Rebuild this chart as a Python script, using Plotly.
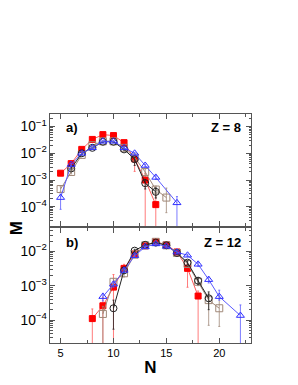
import plotly.graph_objects as go

# ---------------- Z = 8 (panel a) ----------------
n_red8 = [5, 6, 7, 8, 9, 10, 11, 12, 13, 14]
m_red8 = [1.8e-3, 4.1e-3, 1.4e-2, 3.3e-2, 5.0e-2, 4.6e-2, 2.5e-2, 6.2e-3, 1.0e-3, 1.2e-4]
eu_red8 = [2e-4, 5e-4, 1e-3, 2e-3, 3e-3, 3e-3, 2e-3, 1e-3, 8e-4, 1.5e-4]
el_red8 = [2e-4, 5e-4, 1e-3, 2e-3, 3e-3, 3e-3, 2e-3, 4.1e-3, 1.0e-3, 1.2e-4]

n_tan8 = [5, 6, 7, 8, 9, 10, 11, 12, 13, 14, 15]
m_tan8 = [4.6e-4, 2.0e-3, 8.7e-3, 2.0e-2, 2.8e-2, 2.8e-2, 1.6e-2, 7.0e-3, 2.0e-3, 4.4e-4, 2.2e-4]
eu_tan8 = [1e-4, 3e-4, 8e-4, 1e-3, 1e-3, 1e-3, 1e-3, 1e-3, 6e-4, 1.5e-4, 2.8e-4]
el_tan8 = [1e-4, 3e-4, 8e-4, 1e-3, 1e-3, 1e-3, 1e-3, 1e-3, 6e-4, 2.2e-4, 1.6e-4]

n_blk8 = [6, 7, 8, 9, 10, 11, 12, 13, 14]
m_blk8 = [2.7e-3, 1.0e-2, 1.6e-2, 2.7e-2, 2.7e-2, 1.4e-2, 6.0e-3, 7.6e-4, 3.6e-4]
eu_blk8 = [3e-4, 8e-4, 1e-3, 1e-3, 1e-3, 1e-3, 1e-3, 3e-4, 1.5e-4]
el_blk8 = [3e-4, 8e-4, 1e-3, 1e-3, 1e-3, 1e-3, 2.5e-3, 3e-4, 1.5e-4]

n_blu8 = [5, 6, 7, 8, 9, 10, 11, 12, 13, 14, 16]
m_blu8 = [2.2e-4, 3.8e-3, 1.0e-2, 1.6e-2, 2.8e-2, 2.8e-2, 1.6e-2, 1.0e-2, 3.5e-3, 1.25e-3, 1.4e-4]
eu_blu8 = [8e-5, 4e-4, 8e-4, 1e-3, 1e-3, 1e-3, 1e-3, 8e-4, 4e-4, 2e-4, 1.0e-4]
el_blu8 = [1.4e-4, 4e-4, 8e-4, 1e-3, 1e-3, 1e-3, 1e-3, 8e-4, 4e-4, 2e-4, 1.4e-4]

# ---------------- Z = 12 (panel b) ----------------
n_red12 = [8, 9, 10, 11, 12, 13, 14, 15, 16, 17, 18]
m_red12 = [1.1e-4, 2.6e-4, 9.1e-4, 3.2e-3, 8.4e-3, 1.45e-2, 1.9e-2, 1.55e-2, 9.6e-3, 3.2e-3, 5.0e-4]
eu_red12 = [1.0e-4, 2.0e-4, 1.2e-3, 1.0e-3, 1e-3, 1e-3, 1e-3, 1e-3, 1e-3, 1.0e-3, 2e-4]
el_red12 = [1.1e-4, 2.6e-4, 9.1e-4, 8e-4, 1e-3, 1e-3, 1e-3, 1e-3, 1e-3, 2.3e-3, 5.0e-4]

n_tan12 = [9, 10, 11, 12, 13, 14, 15, 16, 17, 18, 19, 20]
m_tan12 = [1.5e-4, 1.3e-3, 2.3e-3, 8.0e-3, 1.5e-2, 1.9e-2, 1.5e-2, 9.0e-3, 4.3e-3, 1.3e-3, 3.8e-4, 2.2e-4]
eu_tan12 = [1e-4, 3e-4, 5e-4, 1e-3, 1e-3, 1e-3, 1e-3, 1e-3, 6e-4, 3e-4, 2e-4, 2.8e-4]
el_tan12 = [1.5e-4, 3e-4, 5e-4, 1e-3, 1e-3, 1e-3, 1e-3, 1e-3, 6e-4, 3e-4, 3.1e-4, 1.55e-4]

n_blk12 = [10, 11, 12, 13, 14, 15, 16, 17, 18, 19]
m_blk12 = [2.2e-4, 2.8e-3, 1.05e-2, 1.55e-2, 1.8e-2, 1.5e-2, 9.0e-3, 4.7e-3, 1.4e-3, 4.3e-4]
eu_blk12 = [1.6e-4, 5e-4, 1e-3, 1e-3, 1e-3, 1e-3, 1e-3, 6e-4, 3e-4, 2.3e-4]
el_blk12 = [1.66e-4, 5e-4, 1e-3, 1e-3, 1e-3, 1e-3, 1e-3, 6e-4, 3e-4, 2.3e-4]

n_blu12 = [9, 10, 11, 12, 13, 14, 15, 16, 17, 18, 19, 20, 22]
m_blu12 = [4.8e-4, 1.1e-3, 2.8e-3, 7.5e-3, 1.35e-2, 1.65e-2, 1.4e-2, 9.5e-3, 7.7e-3, 4.2e-3, 1.5e-3, 4.8e-4, 1.35e-4]
eu_blu12 = [1.2e-4, 2e-4, 4e-4, 8e-4, 1e-3, 1e-3, 1e-3, 8e-4, 6e-4, 5e-4, 3e-4, 2.6e-4, 1.4e-4]
el_blu12 = [1.2e-4, 2e-4, 4e-4, 8e-4, 1e-3, 1e-3, 1e-3, 8e-4, 6e-4, 5e-4, 3e-4, 1.0e-4, 1.35e-4]

RED = '#ff0000'
RED_L = '#ff5a5a'
TAN = '#a08878'
BLK = '#222222'
BLU = '#3030ff'
BLU_L = '#5a5aff'

fig = go.Figure()


def add(n, m, eu, el, color, lcolor, symbol, xa, ya, size):
    fig.add_trace(go.Scatter(
        x=n, y=m, mode='lines+markers', xaxis=xa, yaxis=ya,
        line=dict(color=lcolor, width=1),
        marker=dict(symbol=symbol, size=size, color=color,
                    line=dict(color=color, width=1)),
        error_y=dict(type='data', array=eu, arrayminus=el, symmetric=False,
                     color=lcolor, thickness=0.8, width=1),
        showlegend=False, cliponaxis=True))


for xa, ya, data in [
    ('x2', 'y2', [(n_red8, m_red8, eu_red8, el_red8), (n_tan8, m_tan8, eu_tan8, el_tan8),
                  (n_blk8, m_blk8, eu_blk8, el_blk8), (n_blu8, m_blu8, eu_blu8, el_blu8)]),
    ('x', 'y', [(n_red12, m_red12, eu_red12, el_red12), (n_tan12, m_tan12, eu_tan12, el_tan12),
                (n_blk12, m_blk12, eu_blk12, el_blk12), (n_blu12, m_blu12, eu_blu12, el_blu12)]),
]:
    (r, t, b, u) = data
    add(*r, RED, RED_L, 'square', xa, ya, 6)
    add(*t, TAN, TAN, 'square-open', xa, ya, 7)
    add(*b, BLK, BLK, 'circle-open', xa, ya, 7)
    add(*u, BLU, BLU_L, 'triangle-up-open', xa, ya, 7)

AX = '#555555'
FONT = 'Liberation Sans, Arial, sans-serif'
xcommon = dict(range=[4, 23], tickvals=[5, 10, 15, 20], ticks='inside', ticklen=5,
               tickcolor=AX, showline=True, linecolor=AX, linewidth=1, mirror='ticks',
               showgrid=False, zeroline=False,
               minor=dict(ticks='inside', ticklen=3, dtick=2.5, tick0=0, tickcolor=AX))
ycommon = dict(type='log', dtick=1, exponentformat='power', ticks='inside', ticklen=5,
               tickcolor=AX, showline=True, linecolor=AX, linewidth=1, mirror='ticks',
               showgrid=False, zeroline=False,
               minor=dict(ticks='inside', ticklen=2.5, dtick='D1', tickcolor=AX))

# the page adds an 8px body margin, so the figure is 8px smaller than the window
fig.update_layout(
    width=290, height=377, paper_bgcolor='white', plot_bgcolor='white',
    margin=dict(l=42, r=47, t=106, b=36),
    font=dict(family=FONT, size=11, color='black'),
    xaxis=dict(**xcommon, anchor='y', domain=[0, 1], showticklabels=True,
               title=dict(text='<b>N</b>', font=dict(size=17), standoff=2)),
    yaxis=dict(**ycommon, anchor='x', domain=[0, 0.502], range=[-4.67, -1.32]),
    xaxis2=dict(**xcommon, anchor='y2', domain=[0, 1], showticklabels=False, matches='x'),
    yaxis2=dict(**ycommon, anchor='x2', domain=[0.511, 1], range=[-4.72, -0.53]),
)

# M label centred on the whole plot height
fig.add_annotation(text='<b>M</b>', xref='paper', yref='paper', x=-0.165, y=0.5,
                   showarrow=False, textangle=-90, font=dict(size=17), xanchor='center')

for txt, xr, yr, xpos, anc in [('<b>a)</b>', 'x2 domain', 'y2 domain', 0.07, 'left'),
                              ('<b>Z = 8</b>', 'x2 domain', 'y2 domain', 0.96, 'right'),
                              ('<b>b)</b>', 'x domain', 'y domain', 0.07, 'left'),
                              ('<b>Z = 12</b>', 'x domain', 'y domain', 0.96, 'right')]:
    fig.add_annotation(text=txt, xref=xr, yref=yr, x=xpos, y=0.96, xanchor=anc,
                       yanchor='top', showarrow=False, font=dict(size=13))

fig.write_html('out.html')
